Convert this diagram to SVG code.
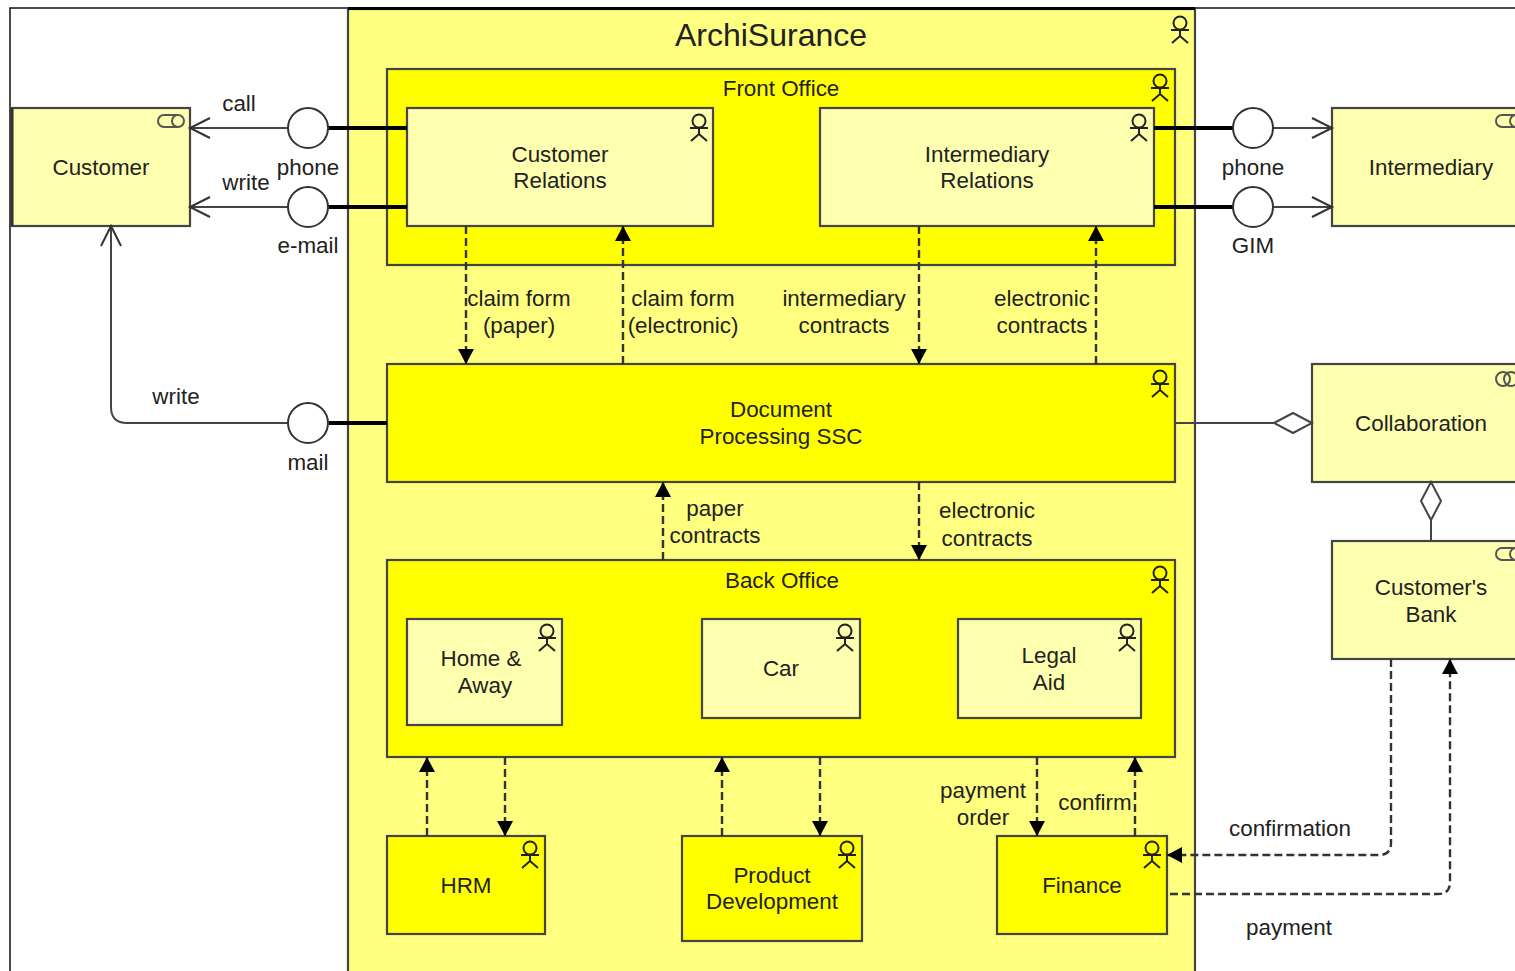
<svg xmlns="http://www.w3.org/2000/svg" width="1515" height="971" viewBox="0 0 1515 971">
<style>
text{font-family:"Liberation Sans",Arial,sans-serif;font-size:22.4px;fill:#222;text-anchor:middle}
.box{stroke:#444;stroke-width:2.2}
.light{fill:#ffffb0}.mid{fill:#ffff80}.strong{fill:#ffff00}
.line{fill:none;stroke:#444;stroke-width:2}
.thick{fill:none;stroke:#000;stroke-width:4}
.dash{fill:none;stroke:#333;stroke-width:2.4;stroke-dasharray:8 4}
.port{fill:#fff;stroke:#333;stroke-width:2}
.icon{fill:none;stroke:#222;stroke-width:2}
.icong{fill:none;stroke:#555;stroke-width:2}
</style>
<defs>
<g id="actor" class="icon"><circle cx="0" cy="-4" r="6.500"/><path d="M0,2.500V9M-9,3H9M-8,16L0,9L8,16"/></g>
<g id="role" class="icong"><path d="M22,-6H8a6,6 0 0 0 0,12H22"/><circle cx="22" cy="0" r="6"/></g>
<marker id="solid" markerWidth="18" markerHeight="18" refX="15" refY="8" orient="auto" markerUnits="userSpaceOnUse"><path d="M0,0L15,8L0,16Z" fill="#000"/></marker>
<marker id="open" markerWidth="24" markerHeight="26" refX="21" refY="12" orient="auto" markerUnits="userSpaceOnUse"><path d="M1,2L21,12L1,22" fill="none" stroke="#333" stroke-width="2"/></marker>
<marker id="dia" markerWidth="42" markerHeight="24" refX="40" refY="12" orient="auto" markerUnits="userSpaceOnUse"><path d="M2,12L21,2L40,12L21,22Z" fill="#fff" stroke="#444" stroke-width="2"/></marker>
</defs>
<rect width="1515" height="971" fill="#fff"/>
<path d="M10,971V8H1515" fill="none" stroke="#111" stroke-width="1.500"/>

<g id="archisurance"><rect class="box mid" x="348" y="9" width="847" height="970"/><path d="M348,8.500H1195" fill="none" stroke="#000" stroke-width="3"/><text x="771" y="46" style="font-size:32px">ArchiSurance</text><use href="#actor" x="1180" y="27"/></g>
<g id="front-office"><rect class="box strong" x="387" y="69" width="788" height="196"/><text x="781" y="96">Front Office</text><use href="#actor" x="1160" y="85"/></g>
<g id="customer-relations"><rect class="box light" x="407" y="108" width="306" height="118"/><text x="560" y="162">Customer</text><text x="560" y="188">Relations</text><use href="#actor" x="699" y="125"/></g>
<g id="intermediary-relations"><rect class="box light" x="820" y="108" width="334" height="118"/><text x="987" y="162">Intermediary</text><text x="987" y="188">Relations</text><use href="#actor" x="1139" y="125"/></g>
<g id="document-processing"><rect class="box strong" x="387" y="364" width="788" height="118"/><text x="781" y="417">Document</text><text x="781" y="444">Processing SSC</text><use href="#actor" x="1160" y="381"/></g>
<g id="back-office"><rect class="box strong" x="387" y="560" width="788" height="197"/><text x="782" y="588">Back Office</text><use href="#actor" x="1160" y="577"/></g>
<g id="home-away"><rect class="box light" x="407" y="619" width="155" height="106"/><text x="481" y="666">Home &amp;</text><text x="485" y="693">Away</text><use href="#actor" x="547" y="635"/></g>
<g id="car"><rect class="box light" x="702" y="619" width="158" height="99"/><text x="781" y="676">Car</text><use href="#actor" x="845" y="635"/></g>
<g id="legal-aid"><rect class="box light" x="958" y="619" width="183" height="99"/><text x="1049" y="663">Legal</text><text x="1049" y="690">Aid</text><use href="#actor" x="1127" y="635"/></g>
<g id="hrm"><rect class="box strong" x="387" y="836" width="158" height="98"/><text x="466" y="893">HRM</text><use href="#actor" x="530" y="852"/></g>
<g id="product-development"><rect class="box strong" x="682" y="836" width="180" height="105"/><text x="772" y="883">Product</text><text x="772" y="909">Development</text><use href="#actor" x="847" y="852"/></g>
<g id="finance"><rect class="box strong" x="997" y="836" width="170" height="98"/><text x="1082" y="893">Finance</text><use href="#actor" x="1152" y="852"/></g>

<g id="customer"><rect class="box light" x="12" y="108" width="178" height="118"/><path d="M12,108V226" stroke="#333" stroke-width="3"/><text x="101" y="175">Customer</text><use href="#role" x="156" y="121"/></g>
<g id="intermediary"><rect class="box light" x="1332" y="108" width="200" height="118"/><text x="1431" y="175">Intermediary</text><use href="#role" x="1494" y="121"/></g>
<g id="collaboration"><rect class="box light" x="1312" y="364" width="220" height="118"/><text x="1421" y="431">Collaboration</text><g class="icong"><circle cx="1503" cy="379" r="7"/><circle cx="1511" cy="379" r="7"/></g></g>
<g id="customers-bank"><rect class="box light" x="1332" y="541" width="200" height="118"/><text x="1431" y="595">Customer's</text><text x="1431" y="622">Bank</text><use href="#role" x="1494" y="554"/></g>

<g id="connectors">
<path class="thick" d="M328,128H407M328,207H407M329,423H387M1154,128H1233M1154,207H1233"/>
<path class="line" d="M288,128H190" marker-end="url(#open)"/>
<path class="line" d="M288,207H190" marker-end="url(#open)"/>
<path class="line" d="M288,423H127Q111,423 111,407V226" marker-end="url(#open)"/>
<path class="line" d="M1273,128H1332" marker-end="url(#open)"/>
<path class="line" d="M1273,207H1332" marker-end="url(#open)"/>
<path class="line" d="M1175,423H1312" marker-end="url(#dia)"/>
<path class="line" d="M1431,541V482" marker-end="url(#dia)"/>
<path class="dash" d="M466,226V364" marker-end="url(#solid)"/>
<path class="dash" d="M623,364V226" marker-end="url(#solid)"/>
<path class="dash" d="M919,226V364" marker-end="url(#solid)"/>
<path class="dash" d="M1096,364V226" marker-end="url(#solid)"/>
<path class="dash" d="M663,560V482" marker-end="url(#solid)"/>
<path class="dash" d="M919,482V560" marker-end="url(#solid)"/>
<path class="dash" d="M427,836V757" marker-end="url(#solid)"/>
<path class="dash" d="M505,757V836" marker-end="url(#solid)"/>
<path class="dash" d="M722,836V757" marker-end="url(#solid)"/>
<path class="dash" d="M820,757V836" marker-end="url(#solid)"/>
<path class="dash" d="M1037,757V836" marker-end="url(#solid)"/>
<path class="dash" d="M1135,836V757" marker-end="url(#solid)"/>
<path class="dash" d="M1391,659V843Q1391,855 1379,855H1167" marker-end="url(#solid)"/>
<path class="dash" d="M1170,894H1438Q1450,894 1450,882V659" marker-end="url(#solid)"/>
</g>
<g id="port-phone-left"><circle class="port" cx="308" cy="128" r="20"/></g>
<g id="port-email"><circle class="port" cx="308" cy="207" r="20"/></g>
<g id="port-mail"><circle class="port" cx="308" cy="423" r="20"/></g>
<g id="port-phone-right"><circle class="port" cx="1253" cy="128" r="20"/></g>
<g id="port-gim"><circle class="port" cx="1253" cy="207" r="20"/></g>
<g id="labels">
<text x="239" y="111">call</text>
<text x="246" y="190">write</text>
<text x="308" y="175">phone</text>
<text x="308" y="253">e-mail</text>
<text x="176" y="404">write</text>
<text x="308" y="470">mail</text>
<text x="1253" y="175">phone</text>
<text x="1253" y="253">GIM</text>
<text x="519" y="306">claim form</text><text x="519" y="333">(paper)</text>
<text x="683" y="306">claim form</text><text x="683" y="333">(electronic)</text>
<text x="844" y="306">intermediary</text><text x="844" y="333">contracts</text>
<text x="1042" y="306">electronic</text><text x="1042" y="333">contracts</text>
<text x="715" y="516">paper</text><text x="715" y="543">contracts</text>
<text x="987" y="518">electronic</text><text x="987" y="546">contracts</text>
<text x="983" y="798">payment</text><text x="983" y="825">order</text>
<text x="1095" y="810">confirm</text>
<text x="1290" y="836">confirmation</text>
<text x="1289" y="935">payment</text>
</g>
</svg>
